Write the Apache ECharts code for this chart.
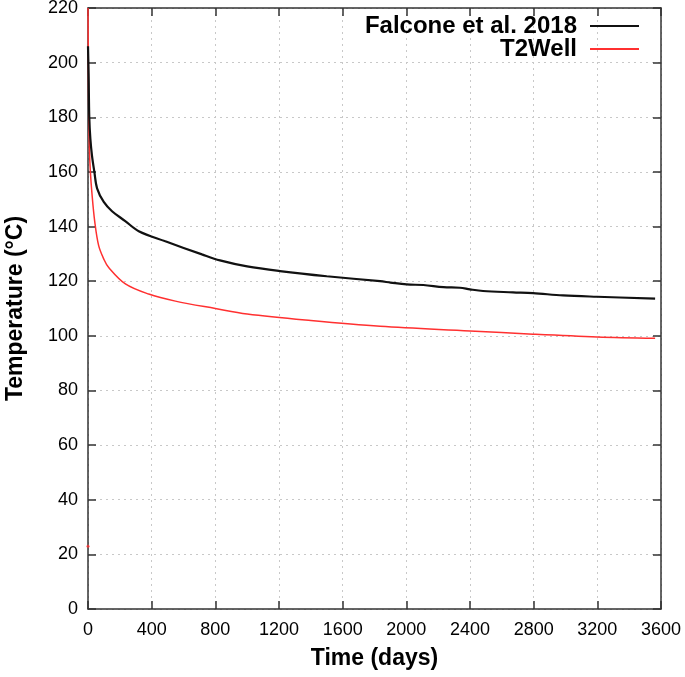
<!DOCTYPE html>
<html>
<head>
<meta charset="utf-8">
<script src="https://cdn.jsdelivr.net/npm/echarts@6/dist/echarts.min.js"></script>
<style>
html,body{margin:0;padding:0;background:#fff;}
#chart{width:685px;height:677px;}
</style>
</head>
<body>
<div id="chart"></div>
<script>
// Data (time in days, temperature in °C)
const falconeData = [
  [0,206],[4,195],[8,180],[15,172],[25,166],[40,160],[57,154],[99,149],[151,145.6],
  [234,142],[319,138.3],[486,134.6],[716,129.8],[829,127.6],[1000,125.4],[1206,123.7],
  [1500,121.8],[1835,120],[1900,119.5],[2002,118.8],[2107,118.6],[2233,117.8],[2337,117.6],
  [2400,117],[2482,116.4],[2670,115.9],[2796,115.6],[2984,114.8],[3198,114.3],[3563,113.6]
];
const t2wellData = [
  [0,220],[2,200],[5,180],[9,168],[15,160],[25,152],[42,142],[67,133],[100,128],[130,125],
  [235,119],[381,115.3],[549,112.7],[800,110],[1000,108],[1400,105.6],[1835,103.5],
  [2400,101.8],[2796,100.6],[3198,99.6],[3563,99.1]
];
const t2wellStart = [[0,23]];
const seriesNames = ['Falcone et al. 2018','T2Well'];
const xTicks = {min:0, max:3600, interval:400};
const yTicks = {min:0, max:220, interval:20};

const chart = echarts.init(document.getElementById('chart'), null, {renderer:'canvas'});
const FONT = '"Liberation Sans", Arial, sans-serif';
const axisLineStyle = {color:'#333', width:1.5};
const gridLine = {show:true, lineStyle:{color:'#c8c8c8', type:[2,4], width:1}};

const legendCommon = {
  orient:'horizontal', right:46, align:'right', padding:0,
  itemWidth:49, itemHeight:2, icon:'rect',
  textStyle:{fontFamily:FONT, fontWeight:'bold', fontSize:24, color:'#000', padding:[0,8,0,0]},
  selectedMode:false
};

chart.setOption({
  animation:false,
  backgroundColor:'#fff',
  grid:{left:88, right:24, top:8, bottom:68, containLabel:false, outerBoundsMode:'none'},
  legend:[
    Object.assign({}, legendCommon, {top:14, data:[seriesNames[0]], itemStyle:{color:'#111'}}),
    Object.assign({}, legendCommon, {top:37, data:[seriesNames[1]], itemStyle:{color:'#ff3030'}})
  ],
  xAxis:[
    {type:'value', min:xTicks.min, max:xTicks.max, interval:xTicks.interval,
     name:'Time (days)', nameLocation:'middle', nameGap:38,
     nameTextStyle:{fontFamily:FONT, fontWeight:'bold', fontSize:23, color:'#000'},
     axisLine:{show:true, onZero:false, lineStyle:axisLineStyle},
     axisTick:{show:true, inside:true, length:8, lineStyle:axisLineStyle},
     axisLabel:{fontFamily:FONT, fontSize:18, color:'#000', margin:12, formatter:v => String(v)},
     splitLine:gridLine},
    {type:'value', position:'top', min:xTicks.min, max:xTicks.max, interval:xTicks.interval,
     axisLine:{show:true, onZero:false, lineStyle:axisLineStyle},
     axisTick:{show:true, inside:true, length:8, lineStyle:axisLineStyle},
     axisLabel:{show:false}, splitLine:{show:false}}
  ],
  yAxis:[
    {type:'value', min:yTicks.min, max:yTicks.max, interval:yTicks.interval,
     name:'Temperature (°C)', nameLocation:'middle', nameGap:61,
     nameTextStyle:{fontFamily:FONT, fontWeight:'bold', fontSize:23, color:'#000'},
     axisLine:{show:true, onZero:false, lineStyle:axisLineStyle},
     axisTick:{show:true, inside:true, length:8, lineStyle:axisLineStyle},
     axisLabel:{fontFamily:FONT, fontSize:18, color:'#000', margin:10, formatter:v => String(v)},
     splitLine:gridLine},
    {type:'value', position:'right', min:yTicks.min, max:yTicks.max, interval:yTicks.interval,
     axisLine:{show:true, onZero:false, lineStyle:axisLineStyle},
     axisTick:{show:true, inside:true, length:8, lineStyle:axisLineStyle},
     axisLabel:{show:false}, splitLine:{show:false}}
  ],
  series:[
    {name:seriesNames[0], type:'line', data:falconeData, symbol:'none', smooth:0.35,
     lineStyle:{color:'#111', width:2.2}, itemStyle:{color:'#111'}, z:3},
    {name:seriesNames[1], type:'line', data:t2wellData, symbol:'none', smooth:0.35,
     lineStyle:{color:'#ff3030', width:1.5}, itemStyle:{color:'#ff3030'}, z:2},
    {name:'T2Well start', type:'scatter', data:t2wellStart, symbolSize:3,
     itemStyle:{color:'#ff3030'}, z:1}
  ]
});
</script>
</body>
</html>
